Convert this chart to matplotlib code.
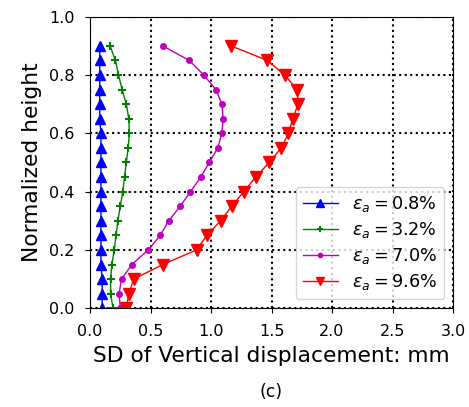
import matplotlib
matplotlib.use("Agg")
import matplotlib.pyplot as plt
import numpy as np

# normalized heights of the measurement points
height = np.round(np.arange(0, 0.91, 0.05), 2)

# SD of vertical displacement (mm) for each axial strain
sd_08 = [0.10, 0.10, 0.10, 0.09, 0.09, 0.09, 0.09, 0.09, 0.09, 0.09,
         0.09, 0.09, 0.09, 0.08, 0.08, 0.08, 0.08, 0.08, 0.08]
sd_32 = [0.19, 0.17, 0.17, 0.18, 0.20, 0.215, 0.23, 0.25, 0.27, 0.285,
         0.30, 0.315, 0.325, 0.32, 0.30, 0.265, 0.235, 0.21, 0.165]
sd_70 = [0.25, 0.24, 0.26, 0.345, 0.48, 0.58, 0.65, 0.745, 0.83, 0.915,
         0.985, 1.055, 1.09, 1.10, 1.09, 1.04, 0.94, 0.82, 0.60]
sd_96 = [0.30, 0.32, 0.36, 0.60, 0.88, 0.965, 1.08, 1.17, 1.27, 1.37,
         1.48, 1.58, 1.64, 1.675, 1.72, 1.71, 1.61, 1.465, 1.165]
labels = [r"$\varepsilon_a = 0.8\%$", r"$\varepsilon_a = 3.2\%$",
          r"$\varepsilon_a = 7.0\%$", r"$\varepsilon_a = 9.6\%$"]

fig = plt.figure(figsize=(4.69, 4.07), dpi=100)
ax = fig.add_axes([0.192, 0.2425, 0.774, 0.7165])

ax.plot(sd_08, height, color="blue", marker="^", markersize=7, lw=1, label=labels[0])
ax.plot(sd_32, height, color="green", marker="+", markersize=6, mew=1.5, lw=1, label=labels[1])
ax.plot(sd_70, height, color="m", marker="o", markersize=4, lw=1, label=labels[2])
ax.plot(sd_96, height, color="red", marker="v", markersize=8, lw=1, label=labels[3])

ax.set_xlim(0, 3.0)
ax.set_ylim(0, 1.0)
ax.set_xticks(np.arange(0, 3.01, 0.5))
ax.set_yticks(np.arange(0, 1.01, 0.2))
ax.tick_params(labelsize=11.5, pad=7.5)
ax.grid(True, color="black", linestyle=":", linewidth=1.5)
ax.set_xlabel("SD of Vertical displacement: mm", fontsize=15.7, labelpad=5)
ax.set_ylabel("Normalized height", fontsize=15.7, labelpad=5)
ax.legend(loc="lower right", fontsize=12.7, handlelength=2.0, borderaxespad=0.5,
          labelspacing=0.34, markerscale=0.75)

fig.text(0.579, 0.037, "(c)", ha="center", va="center", fontsize=12.5)

fig.savefig("out.png", dpi=100)
